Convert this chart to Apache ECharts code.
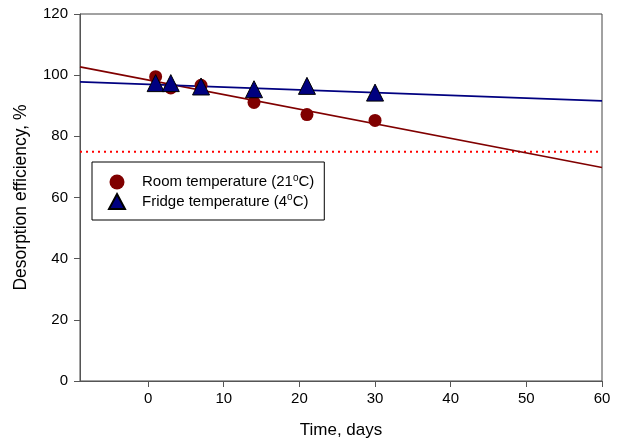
<!DOCTYPE html>
<html>
<head>
<meta charset="utf-8">
<script src="https://cdn.jsdelivr.net/npm/echarts@6/dist/echarts.min.js"></script>
<style>html,body{margin:0;padding:0;background:#fff}#c{width:618px;height:444px}</style>
</head>
<body>
<div id="c"></div>
<script>
// ---- data ----
var roomName = 'Room temperature (21°C)';
var fridgeName = 'Fridge temperature (4°C)';
var days = [1, 3, 7, 14, 21, 30];
var roomValues = [99.5, 95.8, 96.7, 91.1, 87.1, 85.2];
var fridgeValues = [97.4, 97.4, 96.3, 95.4, 96.5, 94.3];
var roomFitX = [-9, 60];
var roomFitY = [102.7, 69.8];
var fridgeFitX = [-9, 60];
var fridgeFitY = [97.8, 91.6];
var thresholdX = [-9, 60];
var thresholdY = [75, 75];
var xTicks = [0, 10, 20, 30, 40, 50, 60];
var yTicks = [0, 20, 40, 60, 80, 100, 120];

function pairs(xs, ys) { return xs.map(function (x, i) { return [x, ys[i]]; }); }

var FONT = 'Liberation Sans, Arial, sans-serif';
var chart = echarts.init(document.getElementById('c'), null, { renderer: 'canvas' });
chart.setOption({
  animation: false,
  backgroundColor: '#fff',
  textStyle: { fontFamily: FONT },
  grid: { left: 80, right: 16, top: 14, bottom: 62, show: true, borderColor: '#444', borderWidth: 1, backgroundColor: 'transparent' },
  xAxis: {
    type: 'value', min: -9, max: 60,
    name: 'Time, days', nameLocation: 'middle', nameGap: 41,
    nameTextStyle: { fontSize: 17, color: '#000', fontFamily: FONT },
    axisLine: { onZero: false, lineStyle: { color: '#555', width: 1 } },
    axisTick: { show: true, length: 6, customValues: xTicks, lineStyle: { color: '#555' } },
    axisLabel: { customValues: xTicks, fontSize: 15, color: '#000', margin: 10, fontFamily: FONT },
    splitLine: { show: false }
  },
  yAxis: {
    type: 'value', min: 0, max: 120, interval: 20,
    name: 'Desorption efficiency, %', nameLocation: 'middle', nameGap: 50,
    nameTextStyle: { fontSize: 17.5, color: '#000', fontFamily: FONT },
    axisLine: { show: true, onZero: false, lineStyle: { color: '#555', width: 1 } },
    axisTick: { show: true, length: 6, lineStyle: { color: '#555' } },
    axisLabel: { fontSize: 15, color: '#000', margin: 12, fontFamily: FONT },
    splitLine: { show: false }
  },
  legend: {
    orient: 'vertical', left: 92, top: 162,
    data: [roomName, fridgeName],
    itemWidth: 16, itemHeight: 15, itemGap: 3,
    padding: [11, 10, 10, 16],
    borderColor: '#000', borderWidth: 1, backgroundColor: '#fff',
    formatter: function (n) { return '{gap|}' + n.replace('°', '{sup|o}'); },
    textStyle: {
      fontSize: 15, color: '#000', fontFamily: FONT,
      rich: {
        gap: { width: 12 },
        sup: { fontSize: 10, color: '#000', fontFamily: FONT, padding: [0, 0, 8, 0] }
      }
    }
  },
  series: [
    { name: 'thr', type: 'line', data: pairs(thresholdX, thresholdY), showSymbol: false, silent: true,
      lineStyle: { color: '#ff0000', width: 2, type: [2, 4] }, z: 1 },
    { name: 'roomFit', type: 'line', data: pairs(roomFitX, roomFitY), showSymbol: false, silent: true,
      lineStyle: { color: '#800000', width: 1.6 }, z: 2 },
    { name: 'fridgeFit', type: 'line', data: pairs(fridgeFitX, fridgeFitY), showSymbol: false, silent: true,
      lineStyle: { color: '#000080', width: 1.6 }, z: 2 },
    { name: roomName, type: 'scatter', data: pairs(days, roomValues), symbol: 'circle', symbolSize: 13,
      itemStyle: { color: '#800000', opacity: 1 }, z: 3 },
    { name: fridgeName, type: 'scatter', data: pairs(days, fridgeValues), symbol: 'triangle', symbolSize: 17,
      itemStyle: { color: '#000080', borderColor: '#000', borderWidth: 1, opacity: 1 }, z: 4 }
  ]
});
</script>
</body>
</html>
